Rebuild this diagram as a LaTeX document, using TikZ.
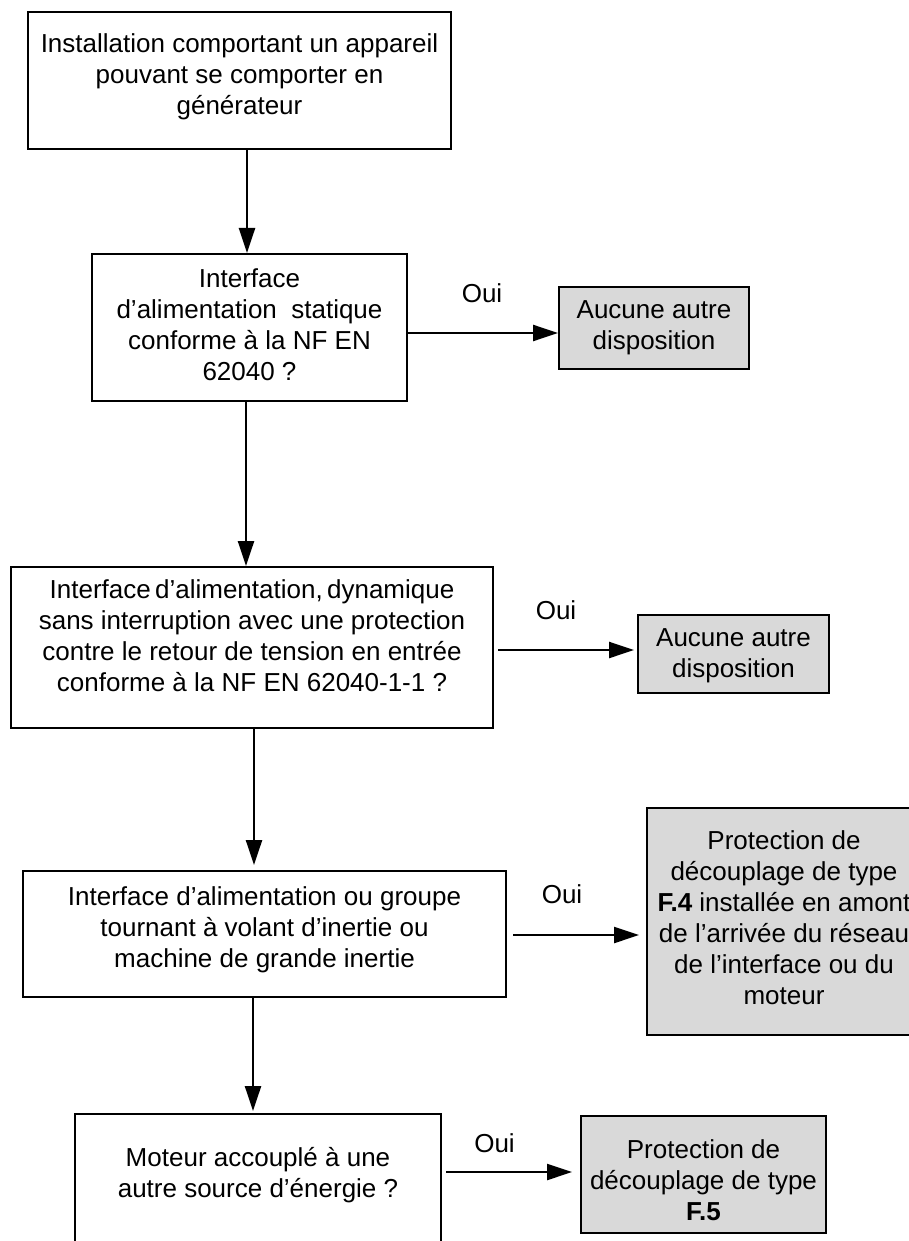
\documentclass[tikz,border=0pt]{standalone}
\usepackage{fontspec}
\setmainfont{Liberation Sans}
\usetikzlibrary{arrows.meta}
\definecolor{boxgray}{HTML}{D9D9D9}
\begin{document}
\begin{tikzpicture}[x=1pt,y=-1pt,
  box/.style={draw=black, line width=2pt, fill=white, inner sep=0pt},
  graybox/.style={box, fill=boxgray},
  txt/.style={font=\fontsize{26pt}{31pt}\selectfont, align=center, inner sep=0pt},
  arr/.style={line width=2.4pt, -{Triangle[length=25pt,width=16pt]}},
]
\useasboundingbox (0,0) rectangle (909,1241);
\clip (0,0) rectangle (909,1241);
\fill[white] (0,0) rectangle (909,1241);

% boxes
\node[box, minimum width=423pt, minimum height=137pt,
  label={[txt,yshift=4pt]center:{Installation comportant un appareil\\pouvant se comporter en\\générateur}}] (B1) at (239.5,80.5) {};
\node[box, minimum width=315pt, minimum height=147pt,
  label={[txt,yshift=2.5pt]center:{Interface\\d’alimentation\ \ statique\\conforme à la NF EN\\62040 ?}}] (B2) at (249.5,327.5) {};
\node[graybox, minimum width=190pt, minimum height=82pt,
  label={[txt]center:{Aucune autre\\disposition}}] (B3) at (654,328) {};
\node[box, minimum width=482pt, minimum height=161pt,
  label={[txt,yshift=11.5pt]center:{Interface\,d’alimentation,\,dynamique\\sans interruption avec une protection\\contre le retour de tension en entrée\\conforme à la NF EN 62040-1-1 ?}}] (B4) at (252,647.5) {};
\node[graybox, minimum width=191pt, minimum height=78pt,
  label={[txt,yshift=-2pt]center:{Aucune autre\\disposition}}] (B5) at (733.5,654) {};
\node[box, minimum width=483pt, minimum height=126pt,
  label={[txt,yshift=4pt]center:{Interface d’alimentation ou groupe\\tournant à volant d’inertie ou\\machine de grande inertie}}] (B6) at (264.5,934) {};
\node[graybox, minimum width=274pt, minimum height=227pt,
  label={[txt,yshift=4pt]center:{Protection de\\découplage de type\\\textbf{F.4} installée en amont\\de l’arrivée du réseau\\de l’interface ou du\\moteur}}] (B7) at (784,921.5) {};
\node[box, minimum width=366pt, minimum height=146pt,
  label={[txt,yshift=12pt]center:{Moteur accouplé à une\\autre source d’énergie ?}}] (B8) at (258,1187) {};
\node[graybox, minimum width=245pt, minimum height=117pt,
  label={[txt,yshift=-5.5pt]center:{Protection de\\découplage de type\\\textbf{F.5}}}] (B9) at (703.5,1174.5) {};

% Oui labels
\node[txt] (o1) at (482,293.5) {Oui};
\node[txt] (o2) at (556,610.5) {Oui};
\node[txt] (o3) at (562,894) {Oui};
\node[txt] (o4) at (494.5,1143) {Oui};

% vertical connectors
\coordinate (v1) at (247,0);
\coordinate (v2) at (246,0);
\coordinate (v3) at (254,0);
\coordinate (v4) at (253,0);
\draw[arr] (B1.south -| v1) -- (B2.north -| v1);
\draw[arr] (B2.south -| v2) -- (B4.north -| v2);
\draw[arr, shorten >=5pt] (B4.south -| v3) -- (B6.north -| v3);
\draw[arr, shorten >=2pt] (B6.south -| v4) -- (B8.north -| v4);

% horizontal connectors
\coordinate (h1) at (0,333);
\coordinate (h2) at (0,650);
\coordinate (h3) at (0,935);
\coordinate (h4) at (0,1172);
\draw[arr] (B2.east |- h1) -- (B3.west |- h1);
\draw[arr, shorten <=4pt, shorten >=3pt] (B4.east |- h2) -- (B5.west |- h2);
\draw[arr, shorten <=6pt, shorten >=7pt] (B6.east |- h3) -- (B7.west |- h3);
\draw[arr, shorten <=4pt, shorten >=8pt] (B8.east |- h4) -- (B9.west |- h4);
\end{tikzpicture}
\end{document}
